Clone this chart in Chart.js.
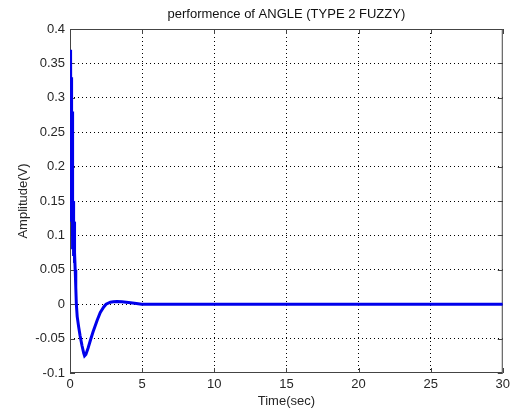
<!DOCTYPE html>
<html>
<head>
<meta charset="utf-8">
<script src="https://cdn.jsdelivr.net/npm/chart.js@4"></script>
<style>
  body { margin: 0; background: #fff; }
  canvas { display: block; }
</style>
</head>
<body>
<canvas id="myChart" width="514" height="412"></canvas>
<script>
// values
const timeSec = [0, 0.02, 0.04, 0.06, 0.08, 0.1, 0.12, 0.14, 0.16, 0.18, 0.2, 0.22, 0.25, 0.28, 0.3, 0.33, 0.36, 0.4, 0.44,
  0.5, 0.6, 0.7, 0.83, 0.95, 1.01, 1.1, 1.25, 1.42, 1.6, 1.89, 2.1, 2.34, 2.5, 2.8, 3.0, 3.26, 3.6, 4.2, 4.6, 4.96, 6, 10, 15, 20, 25, 30];
const amplitude = [0.13, 0.37, 0.2, 0.36, 0.15, 0.33, 0.12, 0.28, 0.1, 0.22, 0.08, 0.15, 0.07, 0.12, 0.06, 0.075, 0.05, 0.025, 0,
  -0.018, -0.033, -0.046, -0.06, -0.071, -0.075, -0.073, -0.064, -0.052, -0.04, -0.023, -0.012, -0.004, 0, 0.003, 0.0035, 0.004, 0.0035, 0.002, 0.001, 0, 0, 0, 0, 0, 0, 0];
const xTicks = [0, 5, 10, 15, 20, 25, 30];
const yTicks = [-0.1, -0.05, 0, 0.05, 0.1, 0.15, 0.2, 0.25, 0.3, 0.35, 0.4];
const yTickLabels = ['-0.1', '-0.05', '0', '0.05', '0.1', '0.15', '0.2', '0.25', '0.3', '0.35', '0.4'];
const chartTitle = 'performence of ANGLE (TYPE 2 FUZZY)';

const font = { family: 'Arial, "Liberation Sans", sans-serif', size: 13 };
const textColor = '#262626';
const boxColor = '#444';

function gridColor(ctx) {
  const s = ctx.scale;
  if (ctx.tick && (ctx.tick.value === s.min || ctx.tick.value === s.max)) return 'rgba(0,0,0,0)';
  return '#000';
}

// matlab style box with inward ticks, title centred over the axes
const axesBox = {
  id: 'axesBox',
  beforeDatasetsDraw(chart) {
    const { ctx, chartArea: a, scales } = chart;
    ctx.save();
    ctx.strokeStyle = boxColor;
    ctx.lineWidth = 1;
    ctx.strokeRect(a.left + 0.5, a.top + 0.5, a.right - a.left - 1, a.bottom - a.top - 1);
    ctx.beginPath();
    xTicks.forEach(v => {
      const px = Math.round(scales.x.getPixelForValue(v)) + 0.5;
      ctx.moveTo(px, a.bottom); ctx.lineTo(px, a.bottom - 5);
      ctx.moveTo(px, a.top); ctx.lineTo(px, a.top + 5);
    });
    yTicks.forEach(v => {
      const py = Math.round(scales.y.getPixelForValue(v)) + 0.5;
      ctx.moveTo(a.left, py); ctx.lineTo(a.left + 5, py);
      ctx.moveTo(a.right, py); ctx.lineTo(a.right - 5, py);
    });
    ctx.stroke();
    ctx.fillStyle = '#111';
    ctx.font = font.size + 'px ' + font.family;
    ctx.textAlign = 'center';
    ctx.textBaseline = 'middle';
    ctx.fillText(chartTitle, (a.left + a.right) / 2, 14);
    ctx.restore();
  }
};

const ctx = document.getElementById('myChart');
new Chart(ctx, {
  type: 'line',
  data: {
    datasets: [{
      data: timeSec.map((t, i) => ({ x: t, y: amplitude[i] })),
      borderColor: 'rgb(0,0,235)',
      borderWidth: 3,
      pointRadius: 0,
      tension: 0,
      fill: false
    }]
  },
  options: {
    responsive: false,
    animation: false,
    layout: { padding: { left: 0, right: 10, top: 29, bottom: 0 } },
    plugins: {
      legend: { display: false },
      tooltip: { enabled: false },
      title: { display: false }
    },
    scales: {
      x: {
        type: 'linear',
        min: 0,
        max: 30,
        afterBuildTicks: s => { s.ticks = xTicks.map(v => ({ value: v })); },
        afterFit: s => { s.height = 39; },
        ticks: { color: textColor, font: font, padding: 4, maxRotation: 0, autoSkip: false },
        grid: { color: gridColor, drawTicks: false, lineWidth: 1 },
        border: { display: false, dash: [1, 3] },
        title: { display: true, text: 'Time(sec)', color: textColor, font: font, padding: { top: 0, bottom: 3.2 } }
      },
      y: {
        min: -0.1,
        max: 0.4,
        afterBuildTicks: s => { s.ticks = yTicks.map(v => ({ value: v })); },
        afterFit: s => { s.width = 70; },
        ticks: {
          color: textColor, font: font, padding: 5, autoSkip: false,
          callback: (v, i) => yTickLabels[i]
        },
        grid: { color: gridColor, drawTicks: false, lineWidth: 1 },
        border: { display: false, dash: [1, 3] },
        title: { display: true, text: 'Amplitude(V)', color: textColor, font: font, padding: { top: 15.7, bottom: 0 } }
      }
    }
  },
  plugins: [axesBox]
});
</script>
</body>
</html>
